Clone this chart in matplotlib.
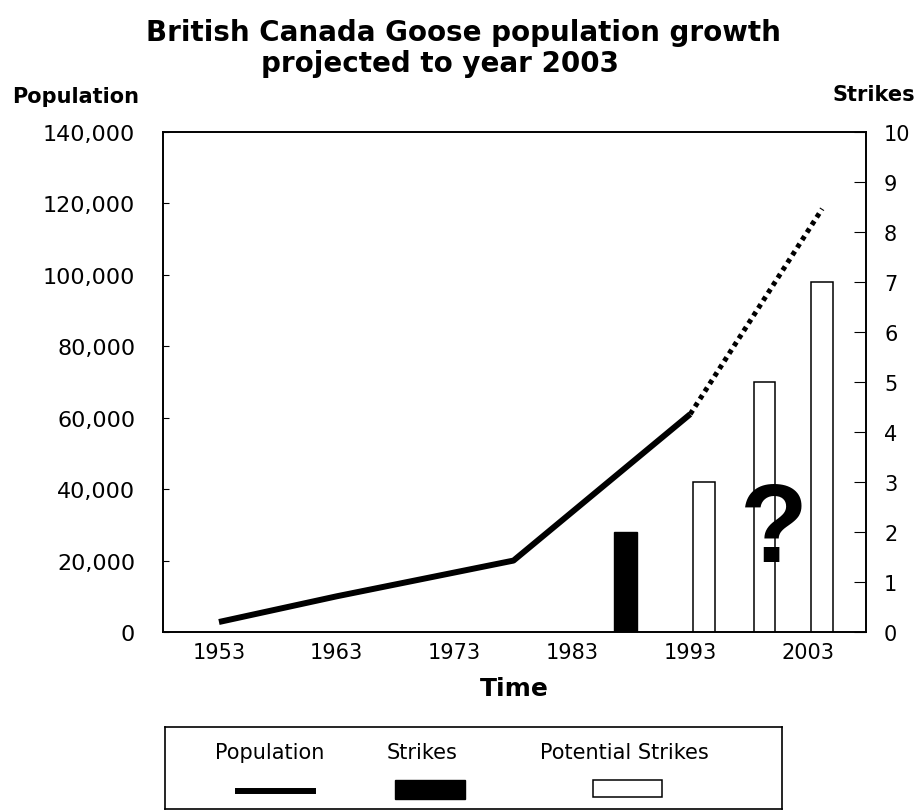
import matplotlib
matplotlib.use("Agg")
import matplotlib.pyplot as plt
from matplotlib.patches import Rectangle
from matplotlib.lines import Line2D
from matplotlib.ticker import FuncFormatter

plt.rcParams['font.family'] = ['DejaVu Sans']

# ---- data ----
pop_years = [1953, 1963, 1978, 1993]
pop_values = [2800, 10000, 20000, 61000]
proj_years = [1993, 2004.2]
proj_values = [61000, 118500]

strike_years = [1987.5]
strike_values = [2]
potential_years = [1994.2, 1999.3, 2004.2]
potential_values = [3, 5, 7]

x_ticks = [1953, 1963, 1973, 1983, 1993, 2003]
pop_ticks = [0, 20000, 40000, 60000, 80000, 100000, 120000, 140000]
strike_ticks = list(range(0, 11))

W, H = 920, 812
fig = plt.figure(figsize=(W / 100, H / 100), dpi=100)

def fx(px):
    return px / W

def fy(py):
    return 1 - py / H

L, R, T, B = 163, 866, 133, 633
ax = fig.add_axes([fx(L), fy(B), fx(R - L), (B - T) / H])
ax2 = ax.twinx()

# population line
ax.plot(pop_years, pop_values, color='black', lw=4.3, solid_capstyle='butt', zorder=3)
ax.plot(proj_years, proj_values, color='black', lw=3.6, linestyle=(0, (0.9, 0.9)), zorder=3)

# strikes bars
ax2.bar(strike_years, strike_values, width=1.95, color='black', edgecolor='black', lw=1)
ax2.bar(potential_years, potential_values, width=1.85, color='white', edgecolor='black', lw=1.1)

ax2.text(2000.1, 2.0, '?', ha='center', va='center', fontsize=80, fontweight='bold',
         family=['Liberation Sans', 'DejaVu Sans'], color='black')

ax.set_xlim(1948.25, 2007.92)
ax.set_ylim(0, 140000)
ax2.set_ylim(0, 10)
ax.set_xticks(x_ticks)
ax.set_xticklabels([str(y) for y in x_ticks])
ax.set_yticks(pop_ticks)
ax.yaxis.set_major_formatter(FuncFormatter(lambda v, p: f"{int(v):,}"))
ax2.set_yticks(strike_ticks)

ax.tick_params(axis='x', length=0, pad=7, labelsize=15)
ax.tick_params(axis='y', direction='in', length=4, pad=20, labelsize=16)
ax2.tick_params(axis='y', direction='in', length=9, pad=13, labelsize=15)
for a in (ax, ax2):
    for s in a.spines.values():
        s.set_linewidth(1.2)
        s.set_color('black')

ax.set_xlabel('Time', fontsize=18, fontweight='bold', labelpad=10)

# titles and axis captions
fig.text(fx(463), fy(33), 'British Canada Goose population growth', ha='center', va='center',
         fontsize=20, fontweight='bold')
fig.text(fx(440), fy(64), 'projected to year 2003', ha='center', va='center',
         fontsize=20, fontweight='bold')
fig.text(fx(12), fy(97), 'Population', ha='left', va='center', fontsize=15, fontweight='bold')
fig.text(fx(915), fy(95), 'Strikes', ha='right', va='center', fontsize=15, fontweight='bold')

# legend box (text above keys)
lg = fig.add_axes([fx(165), fy(810), fx(782 - 165), (810 - 728) / H])
lg.set_xlim(0, 1)
lg.set_ylim(0, 1)
lg.set_xticks([])
lg.set_yticks([])
for s in lg.spines.values():
    s.set_linewidth(1.2)
legend_labels = ['Population', 'Strikes', 'Potential Strikes']
legend_x = [0.170, 0.417, 0.744]
for lab, xx in zip(legend_labels, legend_x):
    lg.text(xx, 0.695, lab, ha='center', va='center', fontsize=15)
lg.add_line(Line2D([0.118, 0.240], [0.22, 0.22], color='black', lw=4.3))
lg.add_patch(Rectangle((0.373, 0.122), 0.113, 0.232, facecolor='black', edgecolor='black', lw=1))
lg.add_patch(Rectangle((0.694, 0.142), 0.111, 0.212, facecolor='white', edgecolor='black', lw=1.1))

fig.savefig('out.png', dpi=100)
